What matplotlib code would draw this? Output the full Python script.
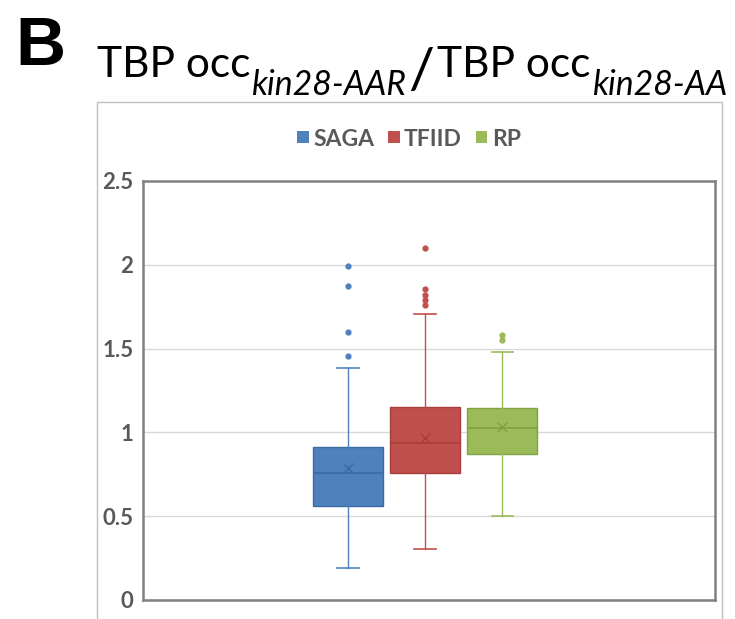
import matplotlib
matplotlib.use('Agg')
import matplotlib.pyplot as plt
from matplotlib.patches import Rectangle

# valores (TBP occ kin28-AAR / kin28-AA)
grupos = ['SAGA', 'TFIID', 'RP']
colores = ['#4F81BD', '#C0504D', '#9BBB59']
bordes = ['#3A6BA5', '#A83E3B', '#82A045']
q1 = [0.563, 0.756, 0.869]
mediana = [0.758, 0.937, 1.024]
q3 = [0.911, 1.153, 1.146]
bigote_bajo = [0.191, 0.304, 0.499]
bigote_alto = [1.382, 1.705, 1.478]
media = [0.786, 0.968, 1.032]
atipicos = [
    [1.458, 1.597, 1.872, 1.995],
    [1.760, 1.790, 1.820, 1.856, 2.100],
    [1.553, 1.581],
]
yticks = [0, 0.5, 1, 1.5, 2, 2.5]
ytick_labels = ['0', '0.5', '1', '1.5', '2', '2.5']

W, H = 735, 619
fig = plt.figure(figsize=(W / 100, H / 100), dpi=100)
plt.rcParams['font.family'] = ['Lato', 'DejaVu Sans']

# marco exterior del grafico (estilo Excel)
fig.patches.append(Rectangle((97 / W, -0.05), (722 - 97) / W, 1.05 - 102 / H,
                             transform=fig.transFigure, fill=False,
                             edgecolor='#BFBFBF', linewidth=1))

ax = fig.add_axes([143 / W, (H - 600) / H, (715 - 143) / W, (600 - 181) / H])

stats = []
for i in range(len(grupos)):
    stats.append({'med': mediana[i], 'q1': q1[i], 'q3': q3[i],
                  'whislo': bigote_bajo[i], 'whishi': bigote_alto[i],
                  'mean': media[i], 'fliers': atipicos[i], 'label': grupos[i]})

for i, s in enumerate(stats):
    ax.bxp([s], positions=[i + 1], widths=0.91, capwidths=0.28,
           showmeans=True, patch_artist=True,
           boxprops=dict(facecolor=colores[i], edgecolor=bordes[i], linewidth=1),
           medianprops=dict(color=bordes[i], linewidth=1.2),
           whiskerprops=dict(color=colores[i], linewidth=1),
           capprops=dict(color=colores[i], linewidth=1.2),
           meanprops=dict(marker='x', markeredgecolor=bordes[i], markersize=7,
                          markeredgewidth=1),
           flierprops=dict(marker='o', markerfacecolor=colores[i],
                           markeredgecolor=colores[i], markersize=3.5))

ax.set_xlim(-1.662, 5.76)
ax.set_ylim(0, 2.5)
ax.set_yticks(yticks)
ax.set_yticklabels(ytick_labels, fontsize=16, fontweight='bold', color='#595959')
ax.set_xticks([])
ax.tick_params(axis='y', length=0, pad=7)
ax.grid(axis='y', color='#D9D9D9', linewidth=1)
ax.set_axisbelow(True)
for sp in ax.spines.values():
    sp.set_color('#808080')
    sp.set_linewidth(1.8)

# leyenda
handles = [Rectangle((0, 0), 1, 1, facecolor=c, edgecolor='none') for c in colores]
fig.legend(handles, grupos, loc='center', bbox_to_anchor=(409 / W, 1 - 139 / H),
           ncol=3, frameon=False, handlelength=0.5, handleheight=0.45,
           handletextpad=0.2, columnspacing=0.6,
           prop=dict(family='Lato', weight='bold', size=16.5),
           labelcolor='#595959')

# letra del panel
fig.text(15 / W, 1 - 65 / H, 'B', fontsize=50, fontweight='bold',
         family='Liberation Sans', va='baseline', ha='left')

# titulo con subindices, escalado para que quepa entre x=97 y x=727
renderer = fig.canvas.get_renderer()


def poner(x, base, texto, size, style='normal'):
    t = fig.text(x / W, 1 - base / H, texto, fontsize=size, style=style,
                 va='baseline', ha='left', color='black')
    return t, t.get_window_extent(renderer=renderer).x1


def titulo(k):
    piezas = []
    x = 97
    t, x = poner(x, 77, 'TBP occ', 34 * k); piezas.append(t)
    t, x = poner(x + 1, 95, 'kin28-AAR', 27 * k, 'italic'); piezas.append(t)
    t, x = poner(x + 2, 88, '/', 46 * k); piezas.append(t)
    t, x = poner(x + 3, 77, 'TBP occ', 34 * k); piezas.append(t)
    t, x = poner(x + 1, 95, 'kin28-AA', 27 * k, 'italic'); piezas.append(t)
    return piezas, x


piezas, fin = titulo(1.0)
k = (727 - 97) / (fin - 97)
for p in piezas:
    p.remove()
piezas, fin = titulo(k)

fig.savefig('out.png', dpi=100)
